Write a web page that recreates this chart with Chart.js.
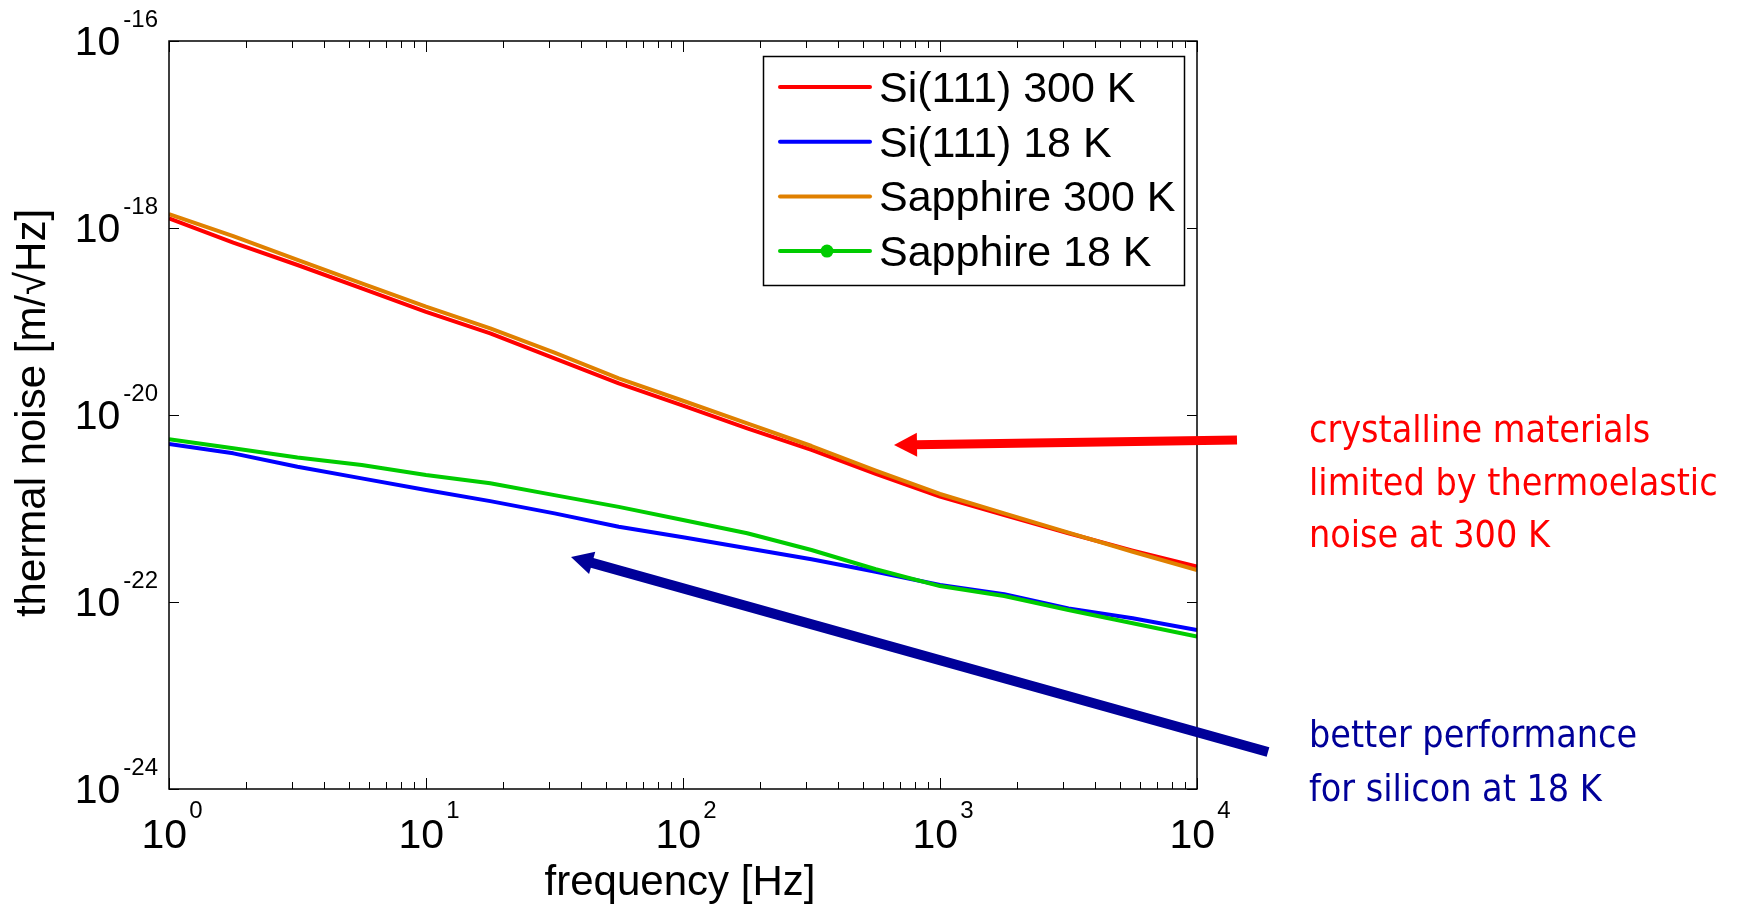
<!DOCTYPE html>
<html>
<head>
<meta charset="utf-8">
<script src="https://cdn.jsdelivr.net/npm/chart.js@4.4.1/dist/chart.umd.min.js"></script>
<style>
  html, body { margin: 0; padding: 0; background: #ffffff; overflow: hidden; }
  canvas { display: block; }
</style>
</head>
<body>
<canvas id="noiseChart" width="1737" height="907"></canvas>
<script>
// Frequency grid [Hz] (quarter-decade steps)
const freqHz = [1, 1.778, 3.162, 5.623, 10, 17.78, 31.62, 56.23, 100, 177.8, 316.2, 562.3, 1000, 1778, 3162, 5623, 10000];

// Thermal noise amplitude spectral densities [m/sqrt(Hz)]
const si111_300K = [1.27e-18, 6.97e-19, 4.02e-19, 2.26e-19, 1.27e-19, 7.46e-20, 4.04e-20, 2.18e-20, 1.26e-20, 7.21e-21, 4.23e-21, 2.34e-21, 1.34e-21, 8.51e-22, 5.43e-22, 3.54e-22, 2.39e-22];
const si111_18K = [4.90e-21, 3.89e-21, 2.80e-21, 2.10e-21, 1.58e-21, 1.20e-21, 8.87e-22, 6.38e-22, 4.92e-22, 3.75e-22, 2.86e-22, 2.11e-22, 1.52e-22, 1.21e-22, 8.55e-23, 6.70e-23, 5.01e-23];
const sapphire_300K = [1.41e-18, 8.20e-19, 4.55e-19, 2.56e-19, 1.44e-19, 8.45e-20, 4.65e-20, 2.47e-20, 1.42e-20, 8.15e-21, 4.66e-21, 2.54e-21, 1.43e-21, 8.87e-22, 5.51e-22, 3.45e-22, 2.20e-22];
const sapphire_18K = [5.50e-21, 4.41e-21, 3.52e-21, 2.92e-21, 2.28e-21, 1.86e-21, 1.39e-21, 1.04e-21, 7.53e-22, 5.43e-22, 3.60e-22, 2.24e-22, 1.48e-22, 1.16e-22, 8.20e-23, 5.92e-23, 4.26e-23];

const seriesLabels = ['Si(111) 300 K', 'Si(111) 18 K', 'Sapphire 300 K', 'Sapphire 18 K'];

// Axis ticks (powers of ten)
const xTickExps = [0, 1, 2, 3, 4];
const yTickExps = [-24, -22, -20, -18, -16];

const xTitle = 'frequency [Hz]';
const yTitle = 'thermal noise [m/\u221AHz]';
const noteRed = ['crystalline materials', 'limited by thermoelastic', 'noise at 300 K'];
const noteBlue = ['better performance', 'for silicon at 18 K'];

// ---- layout & style ----
const W = 1737, H = 907;
const PLOT = { left: 169, top: 41, right: 1197, bottom: 789 };
const COLORS = { si300: '#ff0000', si18: '#0000ff', sa300: '#e08000', sa18: '#00cc00', navy: '#000099', red: '#ff0000' };
const FONT = '"Liberation Sans", Arial, sans-serif';

const toPoints = arr => freqHz.map((f, i) => ({ x: f, y: arr[i] }));

function drawArrow(ctx, tail, tip, width, headLen, headHalf, color) {
  const dx = tip[0] - tail[0], dy = tip[1] - tail[1];
  const len = Math.hypot(dx, dy), ux = dx / len, uy = dy / len;
  const bx = tip[0] - ux * headLen, by = tip[1] - uy * headLen;
  ctx.save();
  ctx.strokeStyle = color; ctx.fillStyle = color;
  ctx.lineWidth = width; ctx.lineCap = 'butt';
  ctx.beginPath(); ctx.moveTo(tail[0], tail[1]); ctx.lineTo(bx + ux * 2, by + uy * 2); ctx.stroke();
  ctx.beginPath();
  ctx.moveTo(tip[0], tip[1]);
  ctx.lineTo(bx - uy * headHalf, by + ux * headHalf);
  ctx.lineTo(bx + uy * headHalf, by - ux * headHalf);
  ctx.closePath(); ctx.fill();
  ctx.restore();
}

function fitFont(ctx, family, sample, targetWidth) {
  ctx.font = '36px ' + family;
  const w = ctx.measureText(sample).width;
  return 36 * targetWidth / w;
}

const axesPlugin = {
  id: 'matlabAxes',
  afterDatasetsDraw(chart) {
    const ctx = chart.ctx;
    const xs = chart.scales.x, ys = chart.scales.y;
    const { left, right, top, bottom } = chart.chartArea;
    ctx.save();

    // axes box
    ctx.strokeStyle = '#000'; ctx.lineWidth = 1.5;
    ctx.strokeRect(left, top, right - left, bottom - top);

    // x ticks (inward, bottom & top), minor ticks at 2..9
    ctx.lineWidth = 1;
    ctx.beginPath();
    for (let e = xTickExps[0]; e <= xTickExps[xTickExps.length - 1]; e++) {
      for (let m = 1; m <= 9; m++) {
        const v = m * Math.pow(10, e);
        if (v > xs.max) break;
        const px = Math.round(xs.getPixelForValue(v)) + 0.5;
        const len = m === 1 ? 11 : 7;
        ctx.moveTo(px, bottom); ctx.lineTo(px, bottom - len);
        ctx.moveTo(px, top); ctx.lineTo(px, top + len);
      }
    }
    // y ticks (inward, left & right)
    yTickExps.forEach(e => {
      const py = Math.round(ys.getPixelForValue(Math.pow(10, e))) + 0.5;
      ctx.moveTo(left, py); ctx.lineTo(left + 10, py);
      ctx.moveTo(right, py); ctx.lineTo(right - 10, py);
    });
    ctx.stroke();

    // tick labels: 10 with superscript exponent
    ctx.fillStyle = '#000';
    const baseFont = '41px ' + FONT, expFont = '24px ' + FONT;
    ctx.textBaseline = 'alphabetic';
    xTickExps.forEach(e => {
      const px = xs.getPixelForValue(Math.pow(10, e));
      ctx.font = baseFont; const wb = ctx.measureText('10').width;
      ctx.font = expFont; const we = ctx.measureText(String(e)).width;
      const x0 = px + 3 - (wb + 2 + we) / 2;
      ctx.font = baseFont; ctx.textAlign = 'left'; ctx.fillText('10', x0, bottom + 59);
      ctx.font = expFont; ctx.fillText(String(e), x0 + wb + 2, bottom + 29);
    });
    yTickExps.forEach(e => {
      const py = ys.getPixelForValue(Math.pow(10, e));
      const label = '-' + Math.abs(e);
      ctx.font = expFont; const we = ctx.measureText(label).width;
      ctx.textAlign = 'right';
      ctx.fillText(label, left - 11, py - 14);
      ctx.font = baseFont;
      ctx.fillText('10', left - 11 - we - 3, py + 14);
    });

    // axis titles
    ctx.font = '42px ' + FONT;
    ctx.textAlign = 'center';
    ctx.fillText(xTitle, (left + right) / 2 - 3, 895);
    ctx.save();
    ctx.translate(45, (top + bottom) / 2 - 2);
    ctx.rotate(-Math.PI / 2);
    ctx.fillText(yTitle, 0, 0);
    ctx.restore();
    ctx.restore();
  },
  afterDraw(chart) {
    const ctx = chart.ctx;
    ctx.save();
    // legend
    const box = { x: 763.5, y: 56.5, w: 421, h: 229 };
    ctx.fillStyle = '#fff';
    ctx.fillRect(box.x, box.y, box.w, box.h);
    ctx.strokeStyle = '#000'; ctx.lineWidth = 1.5;
    ctx.strokeRect(box.x, box.y, box.w, box.h);
    chart.data.datasets.forEach((ds, i) => {
      const y = 87 + i * 54.7;
      ctx.strokeStyle = ds.borderColor; ctx.lineWidth = 4; ctx.lineCap = 'round';
      ctx.beginPath(); ctx.moveTo(780, y); ctx.lineTo(870, y); ctx.stroke();
      if (ds.legendMarker) {
        ctx.fillStyle = ds.borderColor;
        ctx.beginPath(); ctx.arc(827, y, 6.5, 0, Math.PI * 2); ctx.fill();
      }
      ctx.fillStyle = '#000';
      ctx.font = '43px ' + FONT;
      ctx.textAlign = 'left'; ctx.textBaseline = 'alphabetic';
      ctx.fillText(ds.label, 879, y + 15);
    });

    // annotation arrows
    drawArrow(ctx, [1237, 440], [894, 445], 9, 23, 12, COLORS.red);
    drawArrow(ctx, [1268, 752], [571, 557], 10, 22, 11.5, COLORS.navy);

    // annotation text
    const fam = '"DejaVu Sans Condensed", "DejaVu Sans", sans-serif';
    const size = fitFont(ctx, fam, noteBlue[0], 328);
    ctx.font = size.toFixed(1) + 'px ' + fam;
    ctx.textAlign = 'left'; ctx.textBaseline = 'alphabetic';
    ctx.fillStyle = COLORS.red;
    noteRed.forEach((t, i) => ctx.fillText(t, 1309, 442 + i * 52.5));
    ctx.fillStyle = COLORS.navy;
    noteBlue.forEach((t, i) => ctx.fillText(t, 1309, 747 + i * 54));
    ctx.restore();
  }
};

new Chart(document.getElementById('noiseChart'), {
  type: 'line',
  data: {
    datasets: [
      { label: seriesLabels[0], data: toPoints(si111_300K), borderColor: COLORS.si300, order: 4 },
      { label: seriesLabels[1], data: toPoints(si111_18K), borderColor: COLORS.si18, order: 3 },
      { label: seriesLabels[2], data: toPoints(sapphire_300K), borderColor: COLORS.sa300, order: 2 },
      { label: seriesLabels[3], data: toPoints(sapphire_18K), borderColor: COLORS.sa18, order: 1, legendMarker: true }
    ]
  },
  options: {
    responsive: false,
    animation: false,
    devicePixelRatio: 1,
    layout: { padding: { left: 0, top: PLOT.top, right: W - PLOT.right, bottom: 0 } },
    elements: {
      point: { radius: 0, hoverRadius: 0 },
      line: { borderWidth: 4, tension: 0, fill: false, borderJoinStyle: 'round', borderCapStyle: 'butt' }
    },
    plugins: { legend: { display: false }, tooltip: { enabled: false }, title: { display: false } },
    events: [],
    scales: {
      x: {
        type: 'logarithmic', position: 'bottom', min: 1, max: 10000,
        grid: { display: false }, border: { display: false }, ticks: { display: false },
        afterFit(s) { s.height = H - PLOT.bottom; }
      },
      y: {
        type: 'logarithmic', position: 'left', min: 1e-24, max: 1e-16,
        grid: { display: false }, border: { display: false }, ticks: { display: false },
        afterFit(s) { s.width = PLOT.left; }
      }
    }
  },
  plugins: [axesPlugin]
});
</script>
</body>
</html>
